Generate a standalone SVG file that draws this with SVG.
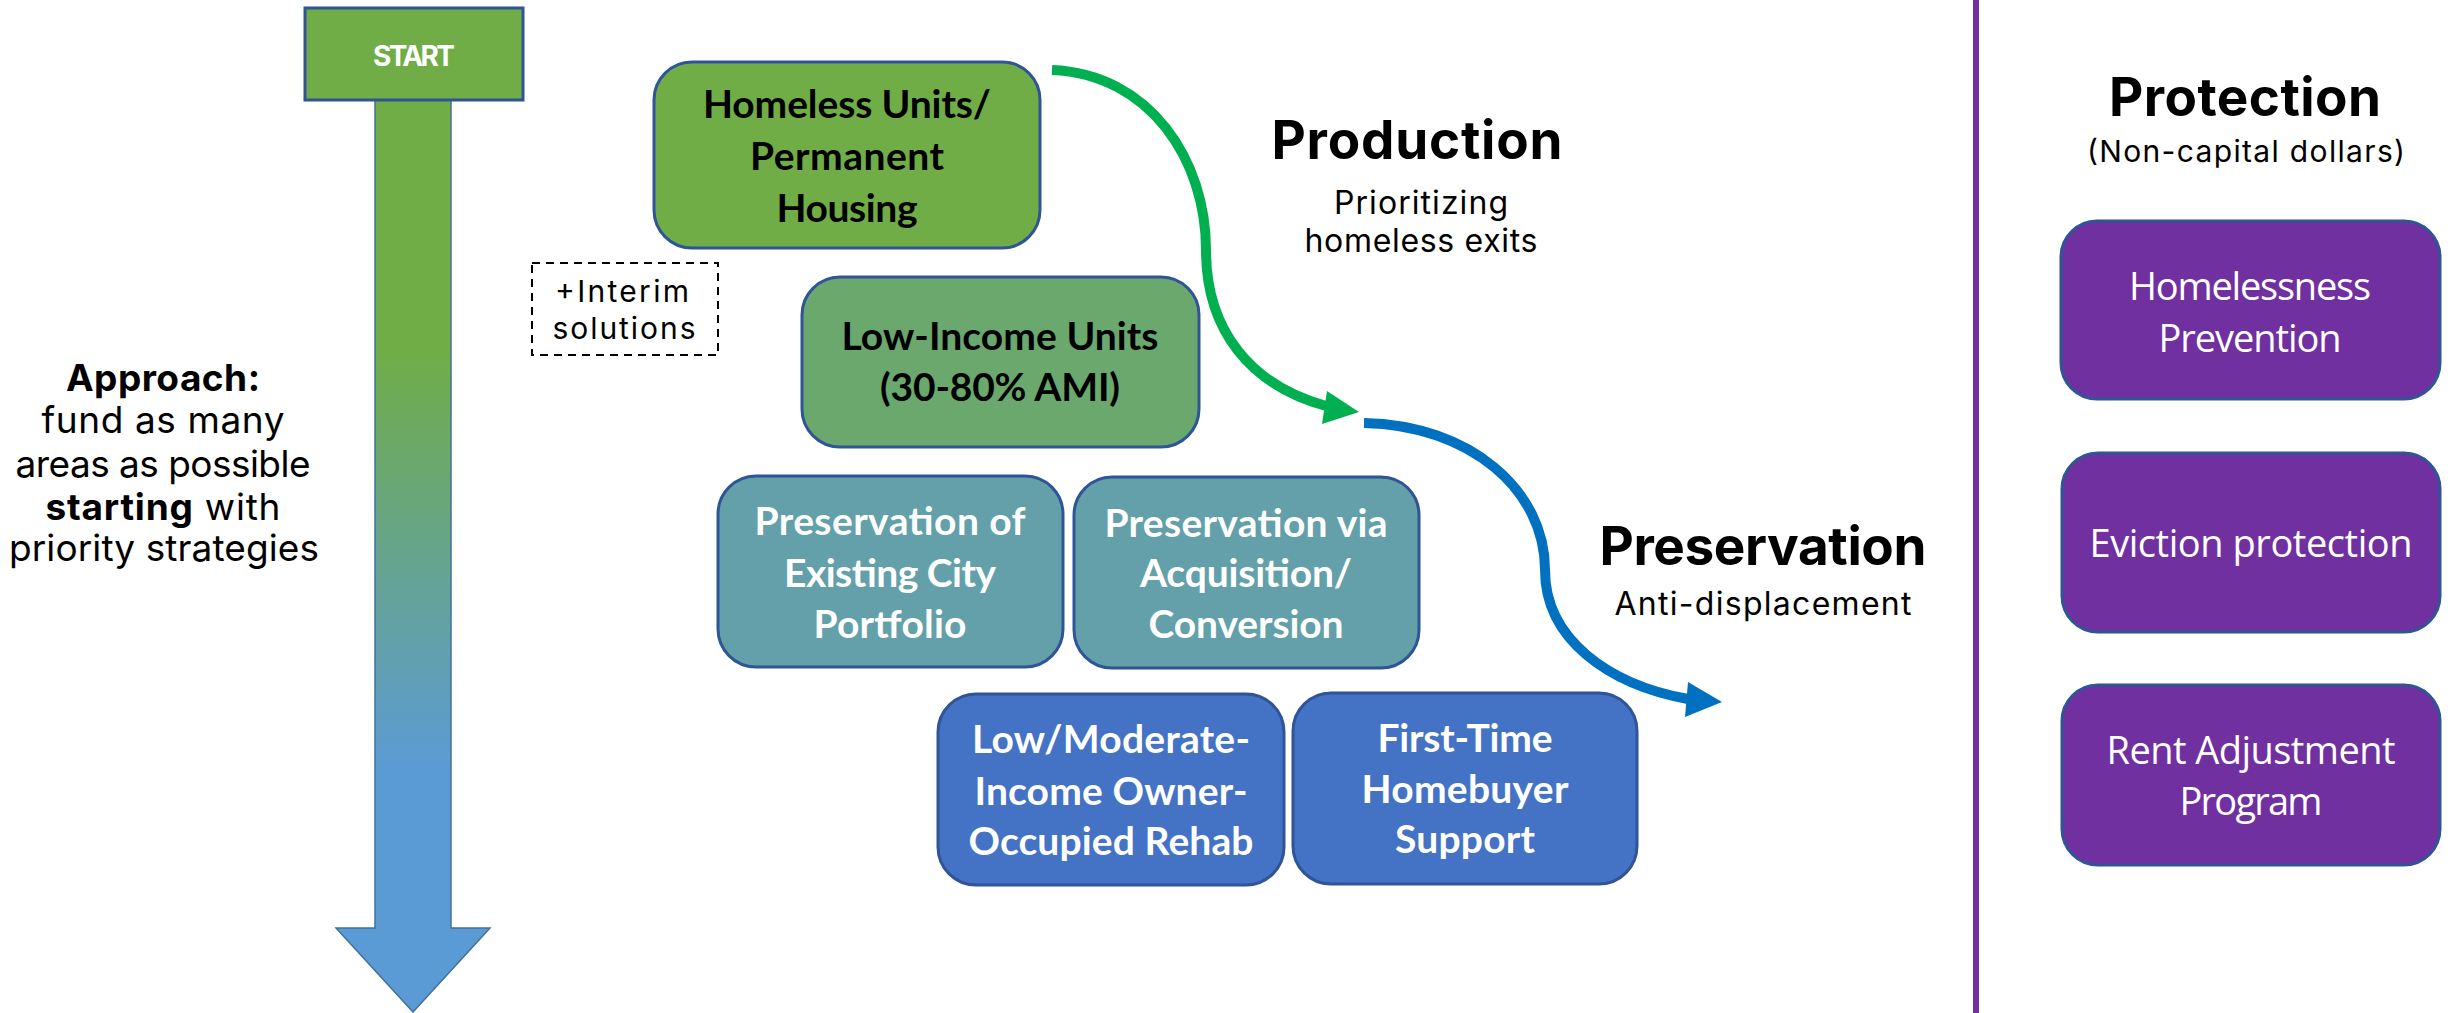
<svg xmlns="http://www.w3.org/2000/svg" width="2450" height="1013" viewBox="0 0 2450 1013">
  <defs>
    <linearGradient id="arrowGrad" gradientUnits="userSpaceOnUse" x1="0" y1="8" x2="0" y2="1012">
      <stop offset="0.34" stop-color="#70AD47"/>
      <stop offset="0.76" stop-color="#5B9BD5"/>
    </linearGradient>
    <style>
      .box { stroke: #2F5597; stroke-width: 3; }
      .green { fill: #70AD47; }
      .lowinc { fill: #6AA86E; }
      .teal { fill: #63A0AA; }
      .blue { fill: #4472C4; }
      .purple { fill: #7030A0; }
      .cal { font-family: Lato, "Open Sans", sans-serif; font-weight: 700; font-size: 39px; text-anchor: middle; }
      .dark { fill: #000000; }
      .light { fill: #FFFFFF; }
      .mont { font-family: Inter, "Noto Sans", sans-serif; fill: #000000; text-anchor: middle; }
      .title { font-weight: 700; font-size: 53px; }
      .sub { font-size: 32px; font-weight: 400; }
      .appr { font-size: 37px; }
      .prot { font-family: "Open Sans", "Noto Sans", sans-serif; font-size: 38px; fill: #FFFFFF; text-anchor: middle; }
      .conn { fill: none; stroke-width: 10; }
    </style>
  </defs>

  <g id="start-arrow">
    <polygon points="375,100 451,100 451,928 490,928 413,1012 336,928 375,928" fill="url(#arrowGrad)" stroke="#41719C" stroke-width="1.5"/>
    <rect x="305" y="8" width="218" height="92" fill="#70AD47" stroke="#2F5597" stroke-width="3"/>
    <text x="414" y="66" font-family="Inter, sans-serif" font-weight="700" font-size="28" fill="#FFFFFF" text-anchor="middle" textLength="82">START</text>
  </g>

  <g id="approach">
    <text class="mont appr" x="163" y="391" font-weight="700" textLength="194">Approach:</text>
    <text class="mont appr" x="163" y="433" textLength="243">fund as many</text>
    <text class="mont appr" x="163" y="477" textLength="295">areas as possible</text>
    <text class="mont appr" x="163" y="520" textLength="235"><tspan font-weight="700">starting</tspan> with</text>
    <text class="mont appr" x="164" y="561" textLength="310">priority strategies</text>
  </g>

  <g id="interim">
    <rect x="532" y="263" width="186" height="92" fill="none" stroke="#000000" stroke-width="2" stroke-dasharray="8,6"/>
    <text class="mont" x="622" y="302" font-size="30" textLength="134">+Interim</text>
    <text class="mont" x="624" y="339" font-size="30" textLength="143">solutions</text>
  </g>

  <g id="homeless-units">
    <rect class="box green" x="654" y="62" width="386" height="186" rx="38" ry="38"/>
    <text class="cal dark" x="847" y="118" textLength="288">Homeless Units/</text>
    <text class="cal dark" x="847" y="170" textLength="194">Permanent</text>
    <text class="cal dark" x="847" y="222" textLength="141">Housing</text>
  </g>

  <g id="low-income-units">
    <rect class="box lowinc" x="802" y="277" width="397" height="170" rx="38" ry="38"/>
    <text class="cal dark" x="1000" y="350" textLength="317">Low-Income Units</text>
    <text class="cal dark" x="1000" y="401" textLength="240">(30-80% AMI)</text>
  </g>

  <g id="preservation-city">
    <rect class="box teal" x="718" y="476" width="345" height="191" rx="38" ry="38"/>
    <text class="cal light" x="890" y="535" textLength="271">Preservation of</text>
    <text class="cal light" x="890" y="587" textLength="212">Existing City</text>
    <text class="cal light" x="890" y="638" textLength="153">Portfolio</text>
  </g>

  <g id="preservation-acquisition">
    <rect class="box teal" x="1074" y="477" width="345" height="191" rx="38" ry="38"/>
    <text class="cal light" x="1246" y="537" textLength="283">Preservation via</text>
    <text class="cal light" x="1246" y="587" textLength="212">Acquisition/</text>
    <text class="cal light" x="1246" y="638" textLength="195">Conversion</text>
  </g>

  <g id="owner-rehab">
    <rect class="box blue" x="938" y="694" width="346" height="191" rx="38" ry="38"/>
    <text class="cal light" x="1111" y="753" textLength="278">Low/Moderate-</text>
    <text class="cal light" x="1111" y="805" textLength="273">Income Owner-</text>
    <text class="cal light" x="1111" y="855" textLength="285">Occupied Rehab</text>
  </g>

  <g id="homebuyer">
    <rect class="box blue" x="1293" y="693" width="344" height="191" rx="38" ry="38"/>
    <text class="cal light" x="1465" y="752" textLength="175">First-Time</text>
    <text class="cal light" x="1465" y="803" textLength="207">Homebuyer</text>
    <text class="cal light" x="1465" y="853" textLength="140">Support</text>
  </g>

  <g id="production-label">
    <text class="mont title" x="1417" y="159" textLength="291">Production</text>
    <text class="mont sub" x="1421" y="214" textLength="174">Prioritizing</text>
    <text class="mont sub" x="1421" y="252" textLength="233">homeless exits</text>
  </g>

  <g id="preservation-label">
    <text class="mont title" x="1763" y="565" textLength="327">Preservation</text>
    <text class="mont sub" x="1763" y="615" textLength="297">Anti-displacement</text>
  </g>

  <g id="divider">
    <line x1="1976" y1="0" x2="1976" y2="1013" stroke="#7030A0" stroke-width="6"/>
  </g>

  <g id="protection-label">
    <text class="mont title" x="2245" y="116" textLength="272">Protection</text>
    <text class="mont" x="2246" y="162" font-size="30" textLength="318">(Non-capital dollars)</text>
  </g>

  <g id="homelessness-prevention">
    <rect class="box purple" x="2061" y="221" width="379" height="178" rx="36" ry="36"/>
    <text class="prot" x="2250" y="300" textLength="242">Homelessness</text>
    <text class="prot" x="2250" y="352" textLength="183">Prevention</text>
  </g>

  <g id="eviction-protection">
    <rect class="box purple" x="2062" y="453" width="378" height="179" rx="36" ry="36"/>
    <text class="prot" x="2251" y="557" textLength="323">Eviction protection</text>
  </g>

  <g id="rent-adjustment">
    <rect class="box purple" x="2062" y="685" width="378" height="180" rx="36" ry="36"/>
    <text class="prot" x="2251" y="764" textLength="289">Rent Adjustment</text>
    <text class="prot" x="2251" y="815" textLength="143">Program</text>
  </g>

  <g id="connectors">
    <path class="conn" d="M1052,70 C1150,74 1206,160 1206,250 C1206,330 1250,385 1326,406" stroke="#00B050"/>
    <polygon points="1327,391 1359,412 1322,424" fill="#00B050"/>
    <path class="conn" d="M1364,423 C1470,425 1545,490 1545,570 C1545,640 1610,685 1688,699" stroke="#0070C0"/>
    <polygon points="1688,682 1722,702 1685,717" fill="#0070C0"/>
  </g>
</svg>
